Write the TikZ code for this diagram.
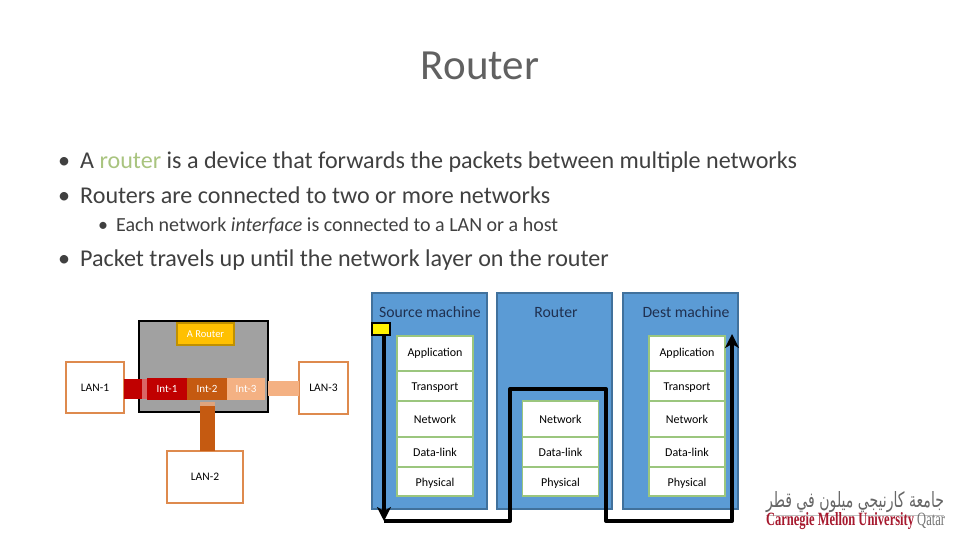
\documentclass[tikz,border=0pt]{standalone}
\usepackage{graphicx}
\usepackage{fontspec}
\setmainfont{Carlito}
\newfontfamily\arabicfont[Script=Arabic]{DejaVu Sans}
\newfontfamily\logofont{Liberation Serif}
\TeXXeTstate=1
\usetikzlibrary{arrows.meta, positioning}
\definecolor{slidetext}{HTML}{404040}
\definecolor{routergreen}{HTML}{A9C47F}
\definecolor{panelblue}{HTML}{5B9BD5}
\definecolor{paneledge}{HTML}{41719C}
\definecolor{labelblue}{HTML}{1F3050}
\definecolor{layeredge}{HTML}{70AD47}
\definecolor{lanedge}{HTML}{DE8A4E}
\definecolor{intred}{HTML}{C00000}
\definecolor{intbrown}{HTML}{C55A11}
\definecolor{intpeach}{HTML}{F4B183}
\definecolor{namefill}{HTML}{FFC000}
\definecolor{nameedge}{HTML}{BF9000}
\definecolor{cmured}{HTML}{A6192E}
\newcommand{\lowtext}[1]{\raisebox{-2pt}[\height][\depth]{#1}}
\tikzset{
    bodytext/.style={anchor=base west, inner sep=0pt, text=slidetext},
    panel/.style={rectangle, minimum width=115pt, minimum height=216pt, draw=paneledge, fill=panelblue, line width=1.5pt},
    panellabel/.style={inner sep=0pt, anchor=base, text=labelblue, font=\fontsize{15.7}{18}\selectfont},
    layer/.style={rectangle, minimum width=76pt, draw=layeredge!70!white, fill=white, line width=1.2pt, outer sep=0pt, font=\fontsize{12}{14}\selectfont, inner sep=0pt},
    lan/.style={rectangle, draw=lanedge, fill=white, line width=1.5pt, outer sep=0pt, font=\fontsize{11.5}{14}\selectfont, inner sep=0pt},
    inter/.style={rectangle, minimum height=22pt, text=white, outer sep=0pt, font=\fontsize{11}{13}\selectfont, inner sep=0pt},
    arrow/.style={-{Stealth[length=14pt, width=14pt, inset=4pt]}, line width=4pt, line join=round, black}
}
\begin{document}
\begin{tikzpicture}[x=1pt, y=-1pt, node distance=0pt]
        \useasboundingbox (0,0) rectangle (960,540);

        % Slide text
        \node (title) [inner sep=0pt, text=black!62, font=\fontsize{43}{50}\selectfont, anchor=base] at (480,80) {Router};
        \node (lineA) [bodytext, font=\fontsize{24.1}{28}\selectfont] at (58,168) {\makebox[22pt][l]{•}A \textcolor{routergreen}{router} is a device that forwards the packets between multiple networks};
        \node (lineB) [bodytext, font=\fontsize{24.1}{28}\selectfont] at (58,203) {\makebox[22pt][l]{•}Routers are connected to two or more networks};
        \node (lineC) [bodytext, font=\fontsize{20}{24}\selectfont] at (98,231) {\makebox[18pt][l]{•}Each network \textit{interface} is connected to a LAN or a host};
        \node (lineD) [bodytext, font=\fontsize{24.1}{28}\selectfont] at (58,266) {\makebox[22pt][l]{•}Packet travels up until the network layer on the router};

        % Router sketch
        \node (routerbox) [rectangle, minimum width=129pt, minimum height=91pt, draw=black, fill=black!37, line width=1.5pt, outer sep=0pt, inner sep=0pt] at (203.5,366.5) {};
        \node (routername) [rectangle, minimum width=57pt, minimum height=22pt, draw=nameedge, fill=namefill, line width=1.5pt, text=white, font=\fontsize{10.5}{12}\selectfont, inner sep=0pt] at (205.5,334) {A Router};
        \node (intA) [inter, minimum width=40pt, fill=intred] at (167,389) {Int-1};
        \node (intB) [inter, minimum width=40pt, fill=intbrown, right=of intA] {Int-2};
        \node (intC) [inter, minimum width=38pt, fill=intpeach, right=of intB] {Int-3};

        \node (lanA) [lan, minimum width=58pt, minimum height=51pt] at (95,387.5) {LAN-1};
        \node (lanB) [lan, minimum width=76pt, minimum height=52pt] at (205,477) {LAN-2};
        \node (lanC) [lan, minimum width=49pt, minimum height=52pt] at (323.5,388) {LAN-3};

        % Links
        \coordinate (stemtop) at (207.5,406);
        \draw[line width=20pt, intred] (lanA.east |- intA) -- (142,389);
        \draw[line width=5pt, intred!60!white] (144.5,379) -- (144.5,399);
        \draw[line width=15pt, intbrown] (stemtop |- lanB.north) -- (stemtop);
        \draw[line width=15pt, intbrown!55!white] (stemtop) -- +(0,-4);
        \draw[line width=15pt, intpeach] (lanC.west) -- (routerbox.east |- lanC.west);

        % Panels
        \node (source) [panel] at (429.5,401) {};
        \node (router) [panel] at (554.5,401) {};
        \node (dest) [panel] at (680.5,401) {};
        \node (sourcelabel) [panellabel] at (430,317) {Source machine};
        \node (routerlabel) [panellabel] at (556,317) {Router};
        \node (destlabel) [panellabel] at (686,317) {Dest machine};

        % Layers
        \node (srcapp) [layer, minimum height=35pt] at (435,353.5) {Application};
        \node (srctrans) [layer, minimum height=30pt, below=of srcapp] {\lowtext{Transport}};
        \node (srcnet) [layer, minimum height=36pt, below=of srctrans] {Network};
        \node (srclink) [layer, minimum height=30pt, below=of srcnet] {Data-link};
        \node (srcphy) [layer, minimum height=29pt, below=of srclink] {\lowtext{Physical}};

        \node (rtrnet) [layer, minimum height=36pt] at (560.5,419) {Network};
        \node (rtrlink) [layer, minimum height=30pt, below=of rtrnet] {Data-link};
        \node (rtrphy) [layer, minimum height=29pt, below=of rtrlink] {\lowtext{Physical}};

        \node (dstapp) [layer, minimum height=35pt] at (687,353.5) {Application};
        \node (dsttrans) [layer, minimum height=30pt, below=of dstapp] {\lowtext{Transport}};
        \node (dstnet) [layer, minimum height=36pt, below=of dsttrans] {Network};
        \node (dstlink) [layer, minimum height=30pt, below=of dstnet] {Data-link};
        \node (dstphy) [layer, minimum height=29pt, below=of dstlink] {\lowtext{Physical}};

        % Packet and its route
        \node (packet) [rectangle, minimum width=18pt, minimum height=12pt, draw=black, fill=yellow, line width=1.5pt, inner sep=0pt] at (381,329) {};
        \coordinate (downA) at (384,521);
        \coordinate (upB) at (510,389);
        \coordinate (overB) at (606,389);
        \coordinate (downB) at (606,521);
        \coordinate (end) at (732,334);
        \draw[arrow] (packet.south -| downA) -- (downA);
        \draw[arrow] (downA) -- (upB |- downA) -- (upB) -- (overB) -- (downB) -- (end |- downB) -- (end);

        % Logo
        \node (logoar) [inner sep=0pt, text=black!60] at (855,502) {\resizebox{178pt}{16pt}{\arabicfont\beginR جامعة كارنيجي ميلون في قطر\endR}};
        \draw[black!25, line width=0.5pt] (logoar.south west) ++(0,2.5) -- ([yshift=-2.5pt]logoar.south east);
        \node (logoen) [inner sep=0pt] at (855.5,521) {\resizebox{179pt}{13pt}{\logofont\textbf{\textcolor{cmured}{Carnegie Mellon University}} \textcolor{black!55}{Qatar}}};
\end{tikzpicture}
\end{document}
